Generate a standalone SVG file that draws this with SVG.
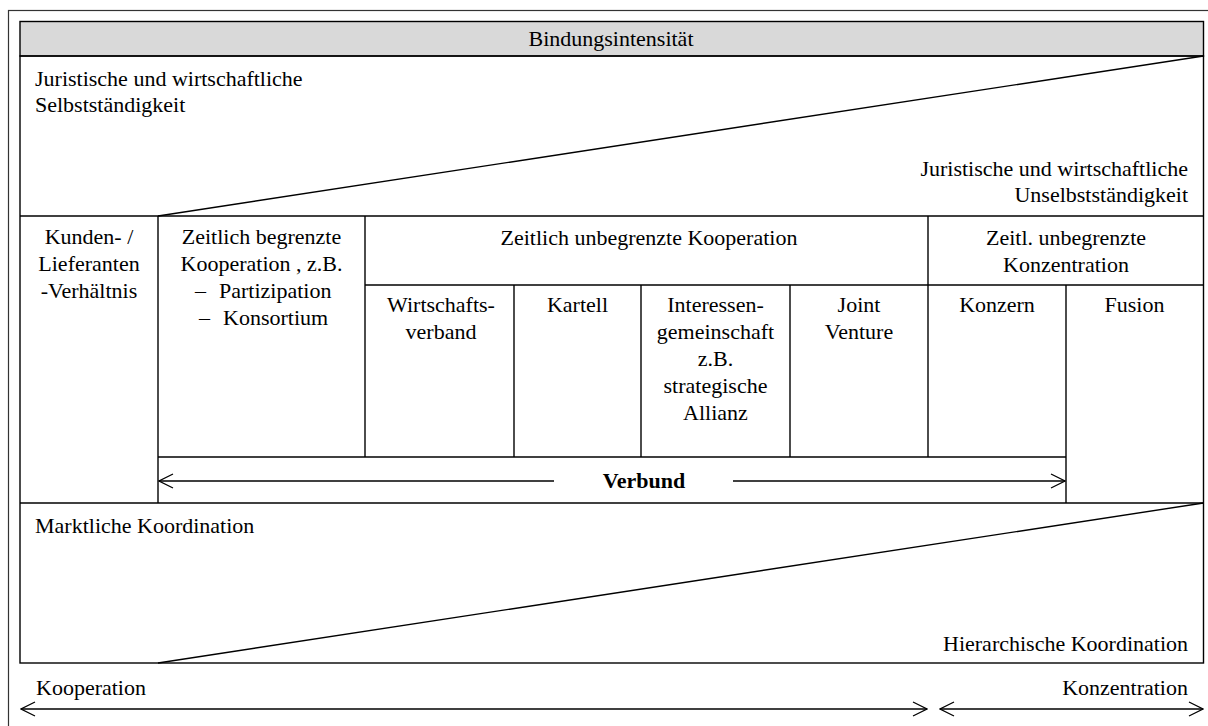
<svg xmlns="http://www.w3.org/2000/svg" width="1208" height="726" viewBox="0 0 1208 726">
  <style>
    .ln { stroke: #000; stroke-width: 1.4; fill: none; }
    .txt { font-family: "Liberation Serif", "Times New Roman", serif; font-size: 22px; fill: #000; }
    .mid { text-anchor: middle; }
    .end { text-anchor: end; }
    .bold { font-weight: bold; }
  </style>
  <defs>
    <marker id="chev" viewBox="0 0 16 16" refX="15" refY="8" markerWidth="16" markerHeight="16" markerUnits="userSpaceOnUse" orient="auto-start-reverse">
      <path d="M1,1 L15,8 L1,15" fill="none" stroke="#000" stroke-width="1.3"/>
    </marker>
  </defs>

  <rect width="1208" height="726" fill="#fff"/>
  <!-- outer frame -->
  <rect x="8.5" y="10.5" width="1210" height="730" fill="none" stroke="#333" stroke-width="1.2"/>

  <!-- header band -->
  <g id="header">
    <rect x="20" y="21.5" width="1183.5" height="34.5" fill="#d9d9d9" stroke="#000" stroke-width="1.4"/>
    <text class="txt mid" x="611" y="46">Bindungsintensität</text>
  </g>

  <!-- main frame and grid -->
  <g id="grid">
    <rect class="ln" x="20" y="56" width="1183.5" height="607"/>
    <line class="ln" x1="20" y1="216" x2="1203.5" y2="216"/>
    <line class="ln" x1="20" y1="503" x2="1203.5" y2="503"/>
    <line class="ln" x1="158" y1="216" x2="158" y2="503"/>
    <line class="ln" x1="365" y1="216" x2="365" y2="457"/>
    <line class="ln" x1="928" y1="216" x2="928" y2="457"/>
    <line class="ln" x1="365" y1="285" x2="1203.5" y2="285"/>
    <line class="ln" x1="514" y1="285" x2="514" y2="457"/>
    <line class="ln" x1="641" y1="285" x2="641" y2="457"/>
    <line class="ln" x1="790" y1="285" x2="790" y2="457"/>
    <line class="ln" x1="1066" y1="285" x2="1066" y2="503"/>
    <line class="ln" x1="158" y1="457" x2="1066" y2="457"/>
  </g>

  <!-- independence wedge -->
  <g id="selbststaendigkeit">
    <line class="ln" x1="158" y1="216" x2="1203.5" y2="56"/>
    <text class="txt" x="35" y="86">Juristische und wirtschaftliche</text>
    <text class="txt" x="35" y="112">Selbstständigkeit</text>
    <text class="txt end" x="1188" y="176">Juristische und wirtschaftliche</text>
    <text class="txt end" x="1188" y="202">Unselbstständigkeit</text>
  </g>

  <g id="kunden">
    <text class="txt mid" x="89" y="244">Kunden- /</text>
    <text class="txt mid" x="89" y="271">Lieferanten</text>
    <text class="txt mid" x="89" y="298">-Verhältnis</text>
  </g>

  <g id="zeitlich-begrenzt">
    <text class="txt mid" x="261.5" y="244">Zeitlich begrenzte</text>
    <text class="txt mid" x="261.5" y="271">Kooperation , z.B.</text>
    <text class="txt" x="195" y="298">–</text>
    <text class="txt" x="219" y="298">Partizipation</text>
    <text class="txt" x="199" y="325">–</text>
    <text class="txt" x="223" y="325">Konsortium</text>
  </g>

  <g id="zeitlich-unbegrenzt-kooperation">
    <text class="txt mid" x="649" y="245">Zeitlich unbegrenzte Kooperation</text>
  </g>

  <g id="zeitl-unbegrenzt-konzentration">
    <text class="txt mid" x="1066" y="245">Zeitl. unbegrenzte</text>
    <text class="txt mid" x="1066" y="272">Konzentration</text>
  </g>

  <g id="wirtschaftsverband">
    <text class="txt mid" x="441" y="312">Wirtschafts-</text>
    <text class="txt mid" x="441" y="339">verband</text>
  </g>

  <g id="kartell">
    <text class="txt mid" x="577.5" y="312">Kartell</text>
  </g>

  <g id="interessengemeinschaft">
    <text class="txt mid" x="715.5" y="312">Interessen-</text>
    <text class="txt mid" x="715.5" y="339">gemeinschaft</text>
    <text class="txt mid" x="715.5" y="366">z.B.</text>
    <text class="txt mid" x="715.5" y="393">strategische</text>
    <text class="txt mid" x="715.5" y="420">Allianz</text>
  </g>

  <g id="joint-venture">
    <text class="txt mid" x="859" y="312">Joint</text>
    <text class="txt mid" x="859" y="339">Venture</text>
  </g>

  <g id="konzern">
    <text class="txt mid" x="997" y="312">Konzern</text>
  </g>

  <g id="fusion">
    <text class="txt mid" x="1134.5" y="312">Fusion</text>
  </g>

  <!-- coordination wedge -->
  <g id="koordination">
    <line class="ln" x1="158" y1="663" x2="1203.5" y2="503"/>
    <text class="txt" x="35" y="533">Marktliche Koordination</text>
    <text class="txt end" x="1188" y="651">Hierarchische Koordination</text>
  </g>

  <g id="verbund">
    <text class="txt mid bold" x="644" y="488">Verbund</text>
  </g>

  <g id="achse">
    <text class="txt" x="36" y="695">Kooperation</text>
    <text class="txt end" x="1188" y="695">Konzentration</text>
  </g>

  <!-- connectors -->
  <g id="connectors">
    <line class="ln" x1="554" y1="481" x2="159" y2="481" marker-end="url(#chev)"/>
    <line class="ln" x1="733" y1="481" x2="1065" y2="481" marker-end="url(#chev)"/>
    <line class="ln" x1="21" y1="709" x2="927" y2="709" marker-start="url(#chev)" marker-end="url(#chev)"/>
    <line class="ln" x1="940" y1="709" x2="1203" y2="709" marker-start="url(#chev)" marker-end="url(#chev)"/>
  </g>
</svg>
